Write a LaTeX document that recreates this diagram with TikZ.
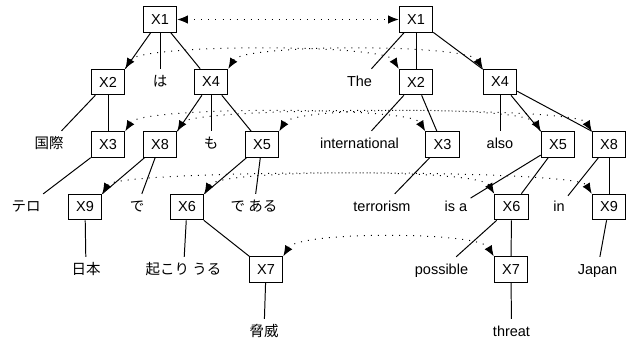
\documentclass[tikz,border=0pt]{standalone}
\usepackage{fontspec}
\setmainfont{Liberation Sans}
\newfontfamily\jpfont{Noto Sans CJK JP}
\usetikzlibrary{arrows.meta}

\begin{document}
\begin{tikzpicture}[x=0.025cm, y=-0.025cm, line width=0.7pt,
    font=\fontsize{10.3}{12}\selectfont,
    box/.style={draw, minimum width=0.84cm, minimum height=0.64cm, inner sep=0pt},
    word/.style={inner xsep=2pt, inner ysep=4.5pt, text height=7.5pt, text depth=1.5pt},
    jword/.style={word, font=\fontsize{10.3}{12}\selectfont\jpfont},
    corr/.style={dash pattern=on 0.7pt off 4.3pt,
      {Latex[length=7.5pt,width=6pt]}-{Latex[length=7.5pt,width=6pt]}}]
  \useasboundingbox (0,0) rectangle (631,345);
  % japanese tree
  \node[box] (l1) at (160,19.5) {X1};
  \node[box] (l2) at (108,82) {X2};
  \node[jword] (lwa) at (160,82) {は};
  \node[box] (l4) at (211,82) {X4};
  \node[jword] (lkokusai) at (49,144) {国際};
  \node[box] (l3) at (108,144.5) {X3};
  \node[box] (l8) at (160,144.5) {X8};
  \node[jword] (lmo) at (211,144) {も};
  \node[box] (l5) at (262,144.5) {X5};
  \node[jword] (ltero) at (26,207) {テロ};
  \node[box] (l9) at (85,207) {X9};
  \node[jword] (lde) at (137,207) {で};
  \node[box] (l6) at (187,207) {X6};
  \node[jword] (ldearu) at (254,207) {で ある};
  \node[jword] (lnihon) at (86,270) {日本};
  \node[jword] (lokoriuru) at (183.5,270) {起こり うる};
  \node[box] (l7) at (266,269.5) {X7};
  \node[jword] (lkyoui) at (264,332) {脅威};
  % english tree
  \node[box] (r1) at (416,19.5) {X1};
  \node[word] (rthe) at (359.5,82) {The};
  \node[box] (r2) at (416,82) {X2};
  \node[box] (r4) at (500,82) {X4};
  \node[word] (rinter) at (359.5,144) {international};
  \node[box] (r3) at (442.5,144.5) {X3};
  \node[word] (ralso) at (500,144) {also};
  \node[box] (r5) at (558,144.5) {X5};
  \node[box] (r8) at (609,144.5) {X8};
  \node[word] (rterror) at (382,207) {terrorism};
  \node[word] (risa) at (456,207) {is a};
  \node[box] (r6) at (511.5,207) {X6};
  \node[word] (rin) at (559,207) {in};
  \node[box] (r9) at (609,207) {X9};
  \node[word] (rposs) at (441.5,270) {possible};
  \node[box] (r7) at (511,269.5) {X7};
  \node[word] (rjapan) at (597.5,270) {Japan};
  \node[word] (rthreat) at (511.5,332) {threat};
  % japanese edges
  \draw (l1) -- (l2.north east);
  \draw (l1) -- (lwa);
  \draw (l1) -- (l4);
  \draw (l2) -- (lkokusai);
  \draw (l2) -- (l3);
  \draw (l4) -- (l8.north east);
  \draw (l4) -- (lmo);
  \draw (l4) -- (l5);
  \draw (l3) -- (ltero);
  \draw (l8) -- (l9.north east);
  \draw (l8) -- (lde);
  \draw (l5) -- (l6.north east);
  \draw (l5) -- (ldearu);
  \draw (l9) -- (lnihon);
  \draw (l6) -- (lokoriuru);
  \draw (l6) -- (l7);
  \draw (l7) -- (lkyoui);
  % english edges
  \draw (r1) -- (rthe);
  \draw (r1) -- (r2);
  \draw (r1) -- (r4);
  \draw (r2) -- (rinter);
  \draw (r2) -- (r3);
  \draw (r4) -- (ralso);
  \draw (r4) -- (r5.north west);
  \draw (r4) -- (r8.north west);
  \draw (r3) -- (rterror);
  \draw (r5) -- (risa);
  \draw (r5) -- (r6);
  \draw (r8) -- (rin);
  \draw (r8) -- (r9);
  \draw (r6) -- (rposs);
  \draw (r6) -- (r7);
  \draw (r9) -- (rjapan);
  \draw (r7) -- (rthreat);
  % alignment links
  \draw[corr] (l1) -- (r1);
  \draw[corr] (l2.north east) .. controls +(15,-25) and +(-15,-25) .. (r2.north west);
  \draw[corr] (l4.north east) .. controls +(15,-25) and +(-15,-25) .. (r4.north west);
  \draw[corr] (l3.north east) .. controls +(15,-25) and +(-15,-25) .. (r3.north west);
  \draw[corr] (l8.north east) .. controls +(15,-25) and +(-15,-25) .. (r8.north west);
  \draw[corr] (l5.north east) .. controls +(15,-25) and +(-15,-25) .. (r5.north west);
  \draw[corr] (l9.north east) .. controls +(15,-25) and +(-15,-25) .. (r9.north west);
  \draw[corr] (l6.north east) .. controls +(15,-25) and +(-15,-25) .. (r6.north west);
  \draw[corr] (l7.north east) .. controls +(15,-25) and +(-15,-25) .. (r7.north west);
\end{tikzpicture}
\end{document}
